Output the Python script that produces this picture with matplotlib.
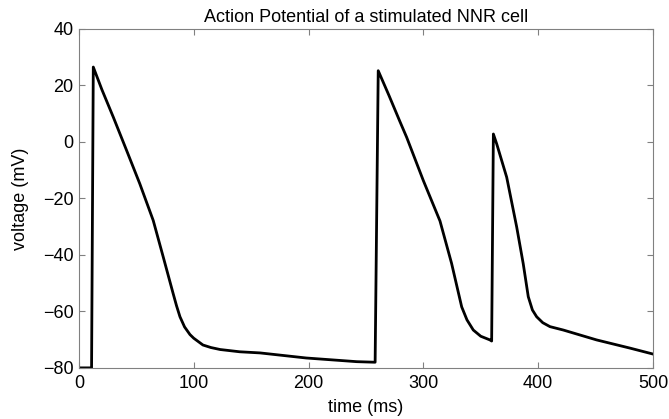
import matplotlib.pyplot as plt

plt.rcParams['font.family'] = ['Liberation Sans', 'DejaVu Sans']

# time (ms) and membrane voltage (mV)
time_ms = [0, 11, 12.5, 20, 30, 41.5, 53, 64.7, 73.4, 82, 85, 88, 92, 96.7,
           100, 108, 115, 123, 140, 157.7, 198, 242, 258,
           260.7, 270, 279.6, 285.5, 300, 314.5, 324.6, 333.4, 338, 343.5,
           350, 358,
           359.5, 361, 363.9, 372.6, 381.3, 387, 391.4, 395, 398.7, 404,
           410.3, 421.9, 450.9, 480, 500]
voltage_mv = [-80, -80, 26.5, 18.5, 8.7, -3, -14.8, -27.8, -40.7, -53.6, -58,
              -61.9, -65.5, -68.2, -69.5, -71.9, -72.8, -73.5, -74.3, -74.7,
              -76.5, -77.8, -78,
              25.2, 16.5, 7.2, 1.6, -13.7, -28, -43, -58.4, -63, -66.6,
              -68.8, -70.1,
              -70.5, 2.8, -0.7, -12.5, -30.1, -43.1, -54.8, -59.5, -61.9,
              -64, -65.4, -66.6, -70.1, -73, -75.1]

x_ticks = [0, 100, 200, 300, 400, 500]
y_ticks = [-80, -60, -40, -20, 0, 20, 40]

fig = plt.figure(figsize=(6.69, 4.19), dpi=100)
ax = fig.add_axes([0.118, 0.122, 0.858, 0.809])

ax.plot(time_ms, voltage_mv, color='black', linewidth=2.0)

ax.set_xlim(0, 500)
ax.set_ylim(-80, 40)
ax.set_xticks(x_ticks)
ax.set_yticks(y_ticks)
ax.tick_params(direction='in', top=True, right=True, length=4, width=0.8,
               color='#808080', labelsize=13)
ax.tick_params(axis='x', pad=5)
ax.tick_params(axis='y', pad=4)
for s in ax.spines.values():
    s.set_color('#808080')
    s.set_linewidth(0.8)

ax.set_xlabel('time (ms)', fontsize=13, labelpad=5)
ax.set_ylabel('voltage (mV)', fontsize=13, labelpad=10)
ax.set_title('Action Potential of a stimulated NNR cell', fontsize=13, pad=5)

fig.savefig('out.png', dpi=100)
